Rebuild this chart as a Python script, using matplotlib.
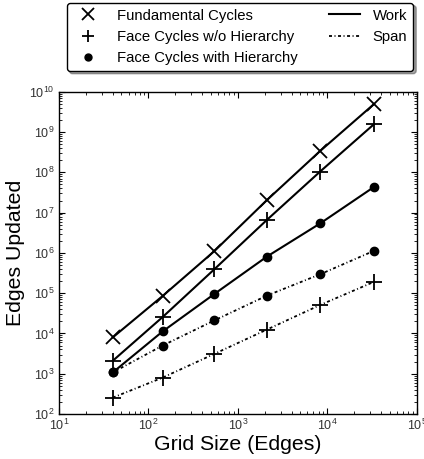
import numpy as np
import matplotlib
matplotlib.use("Agg")
import matplotlib.pyplot as plt
from matplotlib.lines import Line2D
from matplotlib.ticker import LogLocator

plt.rcParams['font.family'] = ['Liberation Sans', 'DejaVu Sans']
plt.rcParams['mathtext.fontset'] = 'cm'

# grid sizes (edges)
grid_edges = [40, 144, 544, 2112, 8320, 33024]

# edges updated
fundamental_work = [8000, 85000, 1.1e6, 2.05e7, 3.4e8, 4.9e9]
face_flat_work = [2100, 25500, 3.9e5, 6.6e6, 1.05e8, 1.55e9]
face_flat_span = [255, 800, 3100, 12500, 51000, 1.9e5]
face_hier_work = [1080, 11200, 95000, 8.1e5, 5.4e6, 4.3e7]
face_hier_span = [1080, 5000, 21000, 87000, 2.95e5, 1.12e6]

span_dash = (1.65, 1.4, 0.55, 1.4)
span_lw = 1.3

fig = plt.figure(figsize=(4.24, 4.59), dpi=100)
ax = fig.add_axes([0.139, 0.098, 0.844, 0.702])

ax.plot(grid_edges, fundamental_work, '-', color='k', lw=1.5,
        marker='x', ms=10.5, mew=1.3)
ax.plot(grid_edges, face_flat_work, '-', color='k', lw=1.5,
        marker='+', ms=11.5, mew=1.3)
ax.plot(grid_edges, face_hier_work, '-', color='k', lw=1.5,
        marker='o', ms=6)
ax.plot(grid_edges, face_flat_span, color='k', lw=span_lw, dashes=span_dash,
        marker='+', ms=11.5, mew=1.3)
ax.plot(grid_edges, face_hier_span, color='k', lw=span_lw, dashes=span_dash,
        marker='o', ms=6)

ax.set_xscale('log')
ax.set_yscale('log')
ax.set_xlim(10, 1e5)
ax.set_ylim(1e2, 1e10)
ax.yaxis.set_minor_locator(LogLocator(base=10, subs=np.arange(2, 10), numticks=100))
ax.set_xlabel('Grid Size (Edges)', fontsize=15.3, labelpad=1)
ax.set_ylabel('Edges Updated', fontsize=15.3)
ax.yaxis.set_label_coords(-0.095, 0.5)

ax.tick_params(which='both', direction='in', top=True, right=True,
               labelsize=9, pad=3, labelcolor='#333333')
ax.tick_params(which='major', length=4, width=0.8)
ax.tick_params(which='minor', length=2, width=0.6)
for s in ax.spines.values():
    s.set_linewidth(1.0)

handles = [
    Line2D([], [], ls='none', color='k', marker='x', ms=8, mew=1.3),
    Line2D([], [], ls='none', color='k', marker='+', ms=9, mew=1.3),
    Line2D([], [], ls='none', color='k', marker='o', ms=5),
    Line2D([], [], color='k', lw=1.5),
    Line2D([], [], color='k', lw=span_lw, dashes=span_dash),
    Line2D([], [], ls='none'),
]
labels = ['Fundamental Cycles', 'Face Cycles w/o Hierarchy',
          'Face Cycles with Hierarchy', 'Work', 'Span', '']
leg = fig.legend(handles, labels, ncol=2, loc='upper right',
                 bbox_to_anchor=(0.975, 0.994), borderaxespad=0,
                 fontsize=10.7, frameon=True, fancybox=True, shadow=True,
                 handlelength=2.1, columnspacing=2.1, labelspacing=0.48,
                 borderpad=0.4, handletextpad=0.87)
leg.get_frame().set_edgecolor('k')
leg.get_frame().set_linewidth(1.0)

fig.savefig('out.png', dpi=100)
